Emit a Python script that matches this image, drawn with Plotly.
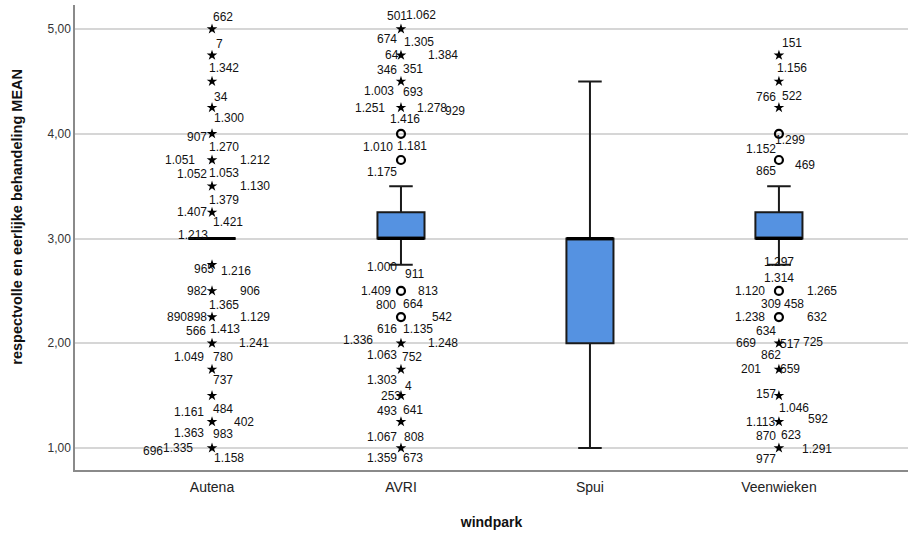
import plotly.graph_objects as go

# ---------------- data ----------------
CATEGORIES = ["Autena", "AVRI", "Spui", "Veenwieken"]
Q1 = [3.0, 3.0, 2.0, 3.0]
MEDIAN = [3.0, 3.0, 3.0, 3.0]
Q3 = [3.0, 3.25, 3.0, 3.25]
LOWER_WHISKER = [3.0, 2.75, 1.0, 2.75]
UPPER_WHISKER = [3.0, 3.5, 4.5, 3.5]

# outliers (o) and extremes (*)
AUTENA_EXTREMES = [5.0, 4.75, 4.5, 4.25, 4.0, 3.75, 3.5, 3.25, 2.75, 2.5, 2.25, 2.0, 1.75, 1.5, 1.25, 1.0]
AUTENA_OUTLIERS = []
AVRI_EXTREMES = [5.0, 4.75, 4.5, 4.25, 2.0, 1.75, 1.5, 1.25, 1.0]
AVRI_OUTLIERS = [4.0, 3.75, 2.5, 2.25]
SPUI_EXTREMES = []
SPUI_OUTLIERS = []
VEEN_EXTREMES = [4.75, 4.5, 4.25, 2.0, 1.75, 1.5, 1.25, 1.0]
VEEN_OUTLIERS = [4.0, 3.75, 2.5, 2.25]

# case labels: (value of point it belongs to, case number)
AUTENA_CASES = [
    (5.0, "662"), (4.75, "7"), (4.5, "1.342"), (4.25, "34"), (4.25, "1.300"),
    (4.0, "907"), (4.0, "1.270"), (3.75, "1.051"), (3.75, "1.212"), (3.75, "1.052"),
    (3.75, "1.053"), (3.5, "1.130"), (3.5, "1.379"), (3.25, "1.407"), (3.25, "1.421"),
    (3.0, "1.213"), (2.75, "965"), (2.75, "1.216"), (2.5, "982"), (2.5, "906"),
    (2.5, "1.365"), (2.25, "890898"), (2.25, "1.129"), (2.25, "566"), (2.25, "1.413"),
    (2.0, "1.241"), (2.0, "1.049"), (2.0, "780"), (1.75, "737"), (1.25, "1.161"),
    (1.25, "484"), (1.25, "402"), (1.25, "1.363"), (1.25, "983"), (1.0, "696"),
    (1.0, "1.335"), (1.0, "1.158"),
]
AVRI_CASES = [
    (5.0, "501"), (5.0, "1.062"), (5.0, "674"), (5.0, "1.305"), (4.75, "64"),
    (4.75, "1.384"), (4.75, "346"), (4.75, "351"), (4.5, "1.003"), (4.5, "693"),
    (4.25, "1.251"), (4.25, "1.278"), (4.25, "929"), (4.25, "1.416"), (4.0, "1.010"),
    (4.0, "1.181"), (3.75, "1.175"), (2.75, "1.000"), (2.75, "911"), (2.5, "1.409"),
    (2.5, "813"), (2.5, "800"), (2.5, "664"), (2.25, "542"), (2.25, "616"),
    (2.25, "1.135"), (2.0, "1.336"), (2.0, "1.248"), (2.0, "1.063"), (2.0, "752"),
    (1.75, "1.303"), (1.5, "4"), (1.5, "253"), (1.5, "493"), (1.5, "641"),
    (1.0, "1.067"), (1.0, "808"), (1.0, "1.359"), (1.0, "673"),
]
VEEN_CASES = [
    (4.75, "151"), (4.5, "1.156"), (4.25, "766"), (4.25, "522"), (4.0, "1.299"),
    (4.0, "1.152"), (3.75, "469"), (3.75, "865"), (2.75, "1.297"), (2.5, "1.314"),
    (2.5, "1.120"), (2.5, "1.265"), (2.5, "309"), (2.5, "458"), (2.25, "1.238"),
    (2.25, "632"), (2.25, "634"), (2.0, "669"), (2.0, "517"), (2.0, "725"),
    (2.0, "862"), (1.75, "201"), (1.75, "659"), (1.5, "157"), (1.5, "1.046"),
    (1.25, "1.113"), (1.25, "592"), (1.0, "870"), (1.0, "623"), (1.0, "1.291"),
    (1.0, "977"),
]

Y_TICKS = [1.0, 2.0, 3.0, 4.0, 5.0]
Y_TICK_TEXT = ["1,00", "2,00", "3,00", "4,00", "5,00"]

# ---------------- label placement (pixel offsets from point) ----------------
AUTENA_OFFSETS = [
    (11, -12), (7, -11), (12, -13), (9, -11), (17, 10),
    (-15, 3), (12, 13), (-32, 0), (43, 0), (-20, 14),
    (12, 13), (43, 0), (12, 14), (-20, 0), (16, 10),
    (-19, -4), (-8, 4), (24, 6), (-15, 0), (38, 0),
    (12, 14), (-25, 0), (43, 0), (-16, 14), (13, 12),
    (42, 0), (-23, 14), (11, 14), (11, 11), (-23, -10),
    (11, -13), (32, 0), (-23, 11), (11, 12), (-59, 3),
    (-34, 0), (17, 10),
]
AVRI_OFFSETS = [
    (-4, -13), (20, -14), (-14, 10), (18, 13), (-9, 0),
    (42, 0), (-14, 15), (12, 14), (-22, 10), (12, 11),
    (-31, 0), (31, 0), (54, 3), (4, 11), (-23, 13),
    (11, 12), (-19, 12), (-19, 2), (14, 9), (-25, 0),
    (27, 0), (-15, 14), (12, 13), (41, 0), (-14, 12),
    (17, 12), (-43, -3), (42, 0), (-19, 12), (11, 14),
    (-19, 11), (8, -10), (-10, 0), (-14, 15), (12, 14),
    (-19, -11), (13, -11), (-19, 10), (12, 10),
]
VEEN_OFFSETS = [
    (13, -12), (13, -13), (-13, -11), (13, -12), (11, 6),
    (-18, 15), (26, 5), (-13, 11), (0, -3), (0, -13),
    (-29, 0), (43, 0), (-8, 13), (15, 13), (-29, 0),
    (38, 0), (-13, 14), (-33, 0), (11, 1), (34, -1),
    (-8, 12), (-28, 0), (11, 0), (-13, -2), (15, 12),
    (-18, 0), (39, -3), (-13, -12), (12, -13), (38, 1),
    (-13, 11),
]

ARIAL = "Arial, Liberation Sans, sans-serif"
BOX_FILL = "#5592E1"
BOX_WIDTH = 0.249

fig = go.Figure()

# boxes
for i, cat in enumerate(CATEGORIES):
    fig.add_trace(go.Box(
        x=[i], q1=[Q1[i]], median=[MEDIAN[i]], q3=[Q3[i]],
        lowerfence=[LOWER_WHISKER[i]], upperfence=[UPPER_WHISKER[i]],
        boxpoints=False, width=BOX_WIDTH, whiskerwidth=0.5,
        fillcolor=BOX_FILL, line=dict(color="#1a1a1a", width=2),
        showlegend=False, hoverinfo="skip",
    ))
    # thick median line
    fig.add_trace(go.Scatter(
        x=[i - BOX_WIDTH / 2, i + BOX_WIDTH / 2], y=[MEDIAN[i], MEDIAN[i]],
        mode="lines", line=dict(color="#000000", width=3),
        showlegend=False, hoverinfo="skip",
    ))

groups = [
    (0, AUTENA_EXTREMES, AUTENA_OUTLIERS, AUTENA_CASES, AUTENA_OFFSETS),
    (1, AVRI_EXTREMES, AVRI_OUTLIERS, AVRI_CASES, AVRI_OFFSETS),
    (2, SPUI_EXTREMES, SPUI_OUTLIERS, [], []),
    (3, VEEN_EXTREMES, VEEN_OUTLIERS, VEEN_CASES, VEEN_OFFSETS),
]

annotations = []
for i, ext, out, cases, offs in groups:
    if ext:
        fig.add_trace(go.Scatter(
            x=[i] * len(ext), y=ext, mode="markers",
            marker=dict(symbol="star", size=8, color="#000000", line=dict(width=0)),
            showlegend=False, hoverinfo="skip",
        ))
    if out:
        fig.add_trace(go.Scatter(
            x=[i] * len(out), y=out, mode="markers",
            marker=dict(symbol="circle-open", size=8, color="#000000", line=dict(width=2.2)),
            showlegend=False, hoverinfo="skip",
        ))
    for (val, txt), (dx, dy) in zip(cases, offs):
        annotations.append(dict(
            x=i, y=val, xref="x", yref="y", text=txt, showarrow=False,
            xanchor="center", yanchor="middle", xshift=dx, yshift=-dy,
            font=dict(family=ARIAL, size=12, color="#111111"),
        ))

annotations.append(dict(
    x=-0.07, y=0.544, xref="paper", yref="paper", textangle=-90,
    text="<b>respectvolle en eerlijke behandeling MEAN</b>", showarrow=False,
    xanchor="center", yanchor="middle",
    font=dict(family=ARIAL, size=14.5, color="#111111"),
))

fig.update_layout(
    width=908, height=537,
    margin=dict(l=75, r=0, t=5, b=67),
    paper_bgcolor="white", plot_bgcolor="white",
    annotations=annotations,
    xaxis=dict(
        range=[-0.725, 3.683], tickvals=list(range(len(CATEGORIES))), ticktext=CATEGORIES,
        showgrid=False, zeroline=False, showline=True, linecolor="#8a8a8a", linewidth=2,
        ticks="", ticklabelstandoff=3, tickfont=dict(family=ARIAL, size=14, color="#222222"),
        title=dict(text="<b>windpark</b>", standoff=23,
                   font=dict(family=ARIAL, size=14, color="#111111")),
    ),
    yaxis=dict(
        range=[0.79, 5.23], tickvals=Y_TICKS, ticktext=Y_TICK_TEXT,
        showgrid=True, gridcolor="#d6d6d6", gridwidth=2, zeroline=False,
        showline=True, linecolor="#8a8a8a", linewidth=1.5,
        ticks="", tickfont=dict(family=ARIAL, size=12, color="#333333"),
    ),
)

fig.write_html("out.html")
